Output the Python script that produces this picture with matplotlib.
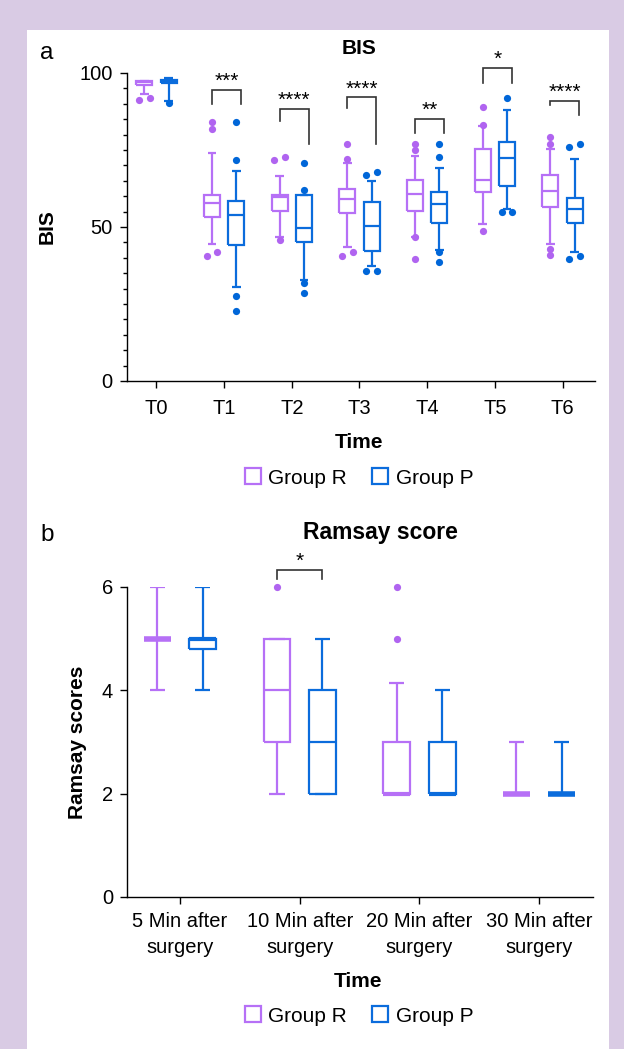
import numpy as np
import matplotlib
matplotlib.use('Agg')
import matplotlib.pyplot as plt
from matplotlib.lines import Line2D
from matplotlib.patches import Rectangle
from matplotlib.ticker import MultipleLocator, FixedLocator

plt.rcParams['font.family'] = ['Liberation Sans', 'DejaVu Sans']

PURPLE = '#b670f6'
BLUE = '#0b6cdc'
PURPLE_DOT = '#b064f0'
BLUE_DOT = '#0066d8'
BG = '#d9cbe4'

# ---------------- Panel a: BIS ----------------
bis_times = ['T0', 'T1', 'T2', 'T3', 'T4', 'T5', 'T6']
bis_R_q1 = [96.2, 53.2, 55.2, 54.4, 55.3, 61.3, 56.6]
bis_R_med = [97.0, 57.9, 59.8, 59.0, 60.8, 65.3, 61.8]
bis_R_q3 = [97.4, 60.4, 60.4, 62.2, 65.2, 75.3, 66.9]
bis_R_lo = [93.2, 44.4, 46.8, 43.4, 46.9, 50.9, 44.6]
bis_R_hi = [97.4, 74.1, 66.7, 70.7, 73.2, 82.8, 75.4]
bis_R_out = [[91.2, 92.0], [84.0, 81.8, 40.7, 41.8], [72.8, 71.8, 45.8],
             [76.9, 72.0, 40.7, 41.8], [76.9, 74.9, 46.9, 39.7],
             [89.1, 83.1, 48.8], [79.1, 76.9, 42.8, 40.8]]

bis_P_q1 = [96.6, 44.3, 45.1, 42.3, 51.2, 63.4, 51.3]
bis_P_med = [97.2, 53.9, 49.8, 50.4, 57.5, 72.4, 55.7]
bis_P_q3 = [97.8, 58.4, 60.4, 58.2, 61.4, 77.6, 59.3]
bis_P_lo = [90.8, 30.6, 32.8, 37.4, 42.5, 55.7, 41.8]
bis_P_hi = [98.3, 68.1, 60.4, 64.9, 69.0, 88.0, 72.2]
bis_P_out = [[90.2], [84.0, 71.9, 27.6, 22.7], [70.9, 62.0, 31.7, 28.7],
             [66.9, 67.8, 35.8, 35.8], [76.9, 72.8, 41.9, 38.6],
             [92.0, 54.8, 54.8], [76.0, 76.9, 39.7, 40.7]]

bis_sig = ['', '***', '****', '****', '**', '*', '****']
bis_sig_top = [np.nan, 94.5, 88.3, 92.1, 85.2, 101.7, 91.0]
bis_sig_left = [np.nan, 89.9, 84.4, 88.5, 80.4, 96.9, 89.6]
bis_sig_right = [np.nan, 89.9, 76.9, 76.9, 80.4, 96.9, 86.3]

# ---------------- Panel b: Ramsay ----------------
ram_times = ['5 Min after\nsurgery', '10 Min after\nsurgery',
             '20 Min after\nsurgery', '30 Min after\nsurgery']
ram_R_q1 = [5, 3, 2, 2]
ram_R_med = [5, 4, 2, 2]
ram_R_q3 = [5, 5, 3, 2]
ram_R_lo = [4, 2, 2, 2]
ram_R_hi = [6, 5, 4.15, 3]
ram_R_out = [[], [6], [6, 5], []]

ram_P_q1 = [4.8, 2, 2, 2]
ram_P_med = [5, 3, 2, 2]
ram_P_q3 = [5, 4, 3, 2]
ram_P_lo = [4, 2, 2, 2]
ram_P_hi = [6, 5, 4, 3]
ram_P_out = [[], [], [], []]

ram_sig = ['', '*', '', '']
ram_sig_top = [np.nan, 6.33, np.nan, np.nan]
ram_sig_left = [np.nan, 6.16, np.nan, np.nan]
ram_sig_right = [np.nan, 6.16, np.nan, np.nan]

W, H = 624, 1049
fig = plt.figure(figsize=(W / 100, H / 100), dpi=100, facecolor=BG)
fig.patches.append(Rectangle((27 / W, 0), (609 - 27) / W, (H - 30) / H,
                             transform=fig.transFigure, facecolor='white',
                             edgecolor='none', zorder=-10))

TICK_FS = 14.5
LABEL_FS = 15


def draw_boxes(ax, pos, q1, med, q3, lo, hi, out, color, dotcolor, width, pair_tol):
    stats = [dict(med=m, q1=a, q3=b, whislo=l, whishi=h, fliers=[])
             for a, m, b, l, h in zip(q1, med, q3, lo, hi)]
    lp = dict(color=color, linewidth=1.6, solid_capstyle='butt', solid_joinstyle='miter')
    res = ax.bxp(stats, positions=pos, widths=width, capwidths=width * 0.56,
                 showfliers=False, manage_ticks=False,
                 boxprops=lp, whiskerprops=lp, capprops=lp, medianprops=lp)
    # thicken medians that coincide with a box edge (flat / degenerate boxes)
    for mline, a, m, b in zip(res['medians'], q1, med, q3):
        if b - a == 0:
            mline.set_linewidth(4.0)
        elif m == a or m == b:
            mline.set_linewidth(3.0)
    for p, vals in zip(pos, out):
        vals = sorted(vals)
        xs = [p] * len(vals)
        i = 0
        while i < len(vals) - 1:
            if abs(vals[i + 1] - vals[i]) < pair_tol:
                xs[i] = p - width * 0.34
                xs[i + 1] = p + width * 0.34
                i += 2
            else:
                i += 1
        ax.plot(xs, vals, 'o', color=dotcolor, ms=5.2, mec='none',
                clip_on=False, zorder=3)


def draw_sig(ax, pos, labels, top, left, right, dl, dr):
    for p, lab, t, l, r in zip(pos, labels, top, left, right):
        if not lab:
            continue
        x1, x2 = p + dl, p + dr
        ax.plot([x1, x1, x2, x2], [l, t, t, r], color='#333333', lw=1.2,
                clip_on=False, solid_joinstyle='miter')
        ax.annotate(lab, xy=((x1 + x2) / 2, t), xytext=(0, 2.0),
                    textcoords='offset points', ha='center', va='baseline',
                    fontsize=15, annotation_clip=False)


def style_axes(ax, xpad):
    ax.patch.set_alpha(0)
    for s in ['top', 'right']:
        ax.spines[s].set_visible(False)
    for s in ['left', 'bottom']:
        ax.spines[s].set_linewidth(1.0)
    ax.tick_params(axis='both', which='major', labelsize=TICK_FS, width=1.0, length=5)
    ax.tick_params(axis='x', pad=xpad)
    ax.tick_params(axis='y', pad=5)


# ---- axes a ----
ax1 = fig.add_axes([126.7 / W, 1 - 381 / H, (595 - 126.7) / W, (381 - 73) / H])
x1 = np.arange(len(bis_times))
off_a = 0.18
wa = 0.235
draw_boxes(ax1, x1 - off_a, bis_R_q1, bis_R_med, bis_R_q3, bis_R_lo, bis_R_hi,
           bis_R_out, PURPLE, PURPLE_DOT, wa, 1.5)
draw_boxes(ax1, x1 + off_a, bis_P_q1, bis_P_med, bis_P_q3, bis_P_lo, bis_P_hi,
           bis_P_out, BLUE, BLUE_DOT, wa, 1.5)
draw_sig(ax1, x1, bis_sig, bis_sig_top, bis_sig_left, bis_sig_right, -off_a, off_a + 0.07)
ax1.set_xlim(-0.44, 6.48)
ax1.set_ylim(0, 100)
ax1.set_xticks(x1)
ax1.set_xticklabels(bis_times)
ax1.yaxis.set_major_locator(FixedLocator([0, 50, 100]))
ax1.yaxis.set_minor_locator(MultipleLocator(5))
style_axes(ax1, 8)
ax1.tick_params(axis='y', which='minor', width=1.0, length=2.8)
ax1.set_xlabel('Time', fontsize=LABEL_FS, fontweight='bold')
ax1.xaxis.set_label_coords(0.496, -0.168)
ax1.set_ylabel('BIS', fontsize=LABEL_FS, fontweight='bold')
ax1.yaxis.set_label_coords(-0.15, 0.5)
ax1.text(0.496, 1 + 25 / 308, 'BIS', transform=ax1.transAxes, ha='center',
         va='center', fontsize=15, fontweight='bold')

# ---- axes b ----
ax2 = fig.add_axes([127 / W, 1 - 897 / H, (593 - 127) / W, (897 - 587) / H])
x2 = np.arange(len(ram_times))
off_b = 0.19
wb = 0.225
draw_boxes(ax2, x2 - off_b, ram_R_q1, ram_R_med, ram_R_q3, ram_R_lo, ram_R_hi,
           ram_R_out, PURPLE, PURPLE_DOT, wb, 0.1)
draw_boxes(ax2, x2 + off_b, ram_P_q1, ram_P_med, ram_P_q3, ram_P_lo, ram_P_hi,
           ram_P_out, BLUE, BLUE_DOT, wb, 0.1)
draw_sig(ax2, x2, ram_sig, ram_sig_top, ram_sig_left, ram_sig_right, -off_b, off_b)
ax2.set_xlim(-0.443, 3.45)
ax2.set_ylim(0, 6)
ax2.set_xticks(x2)
ax2.set_xticklabels(ram_times, linespacing=1.5)
ax2.set_yticks([0, 2, 4, 6])
style_axes(ax2, 5.5)
ax2.set_xlabel('Time', fontsize=LABEL_FS, fontweight='bold')
ax2.xaxis.set_label_coords(0.495, -0.243)
ax2.set_ylabel('Ramsay scores', fontsize=LABEL_FS, fontweight='bold')
ax2.yaxis.set_label_coords(-0.085, 0.5)
ax2.text(0.543, 1 + 54 / 310, 'Ramsay score', transform=ax2.transAxes,
         ha='center', va='center', fontsize=16.5, fontweight='bold')

# ---- legends ----
handles = [Line2D([], [], marker='s', ls='none', ms=11, mfc='white',
                  mec=PURPLE, mew=1.6, label='Group R'),
           Line2D([], [], marker='s', ls='none', ms=11, mfc='white',
                  mec=BLUE, mew=1.6, label='Group P')]
for yc in (478, 1016):
    fig.legend(handles=handles, loc='center', bbox_to_anchor=(359 / W, 1 - yc / H),
               ncol=2, frameon=False, fontsize=LABEL_FS, handlelength=0.8,
               handletextpad=0.35, columnspacing=1.2)

# ---- panel labels ----
fig.text(47 / W, 1 - 53 / H, 'a', fontsize=17.5, ha='center', va='center')
fig.text(47 / W, 1 - 535 / H, 'b', fontsize=17.5, ha='center', va='center')

fig.savefig('out.png', dpi=100, facecolor=BG)
